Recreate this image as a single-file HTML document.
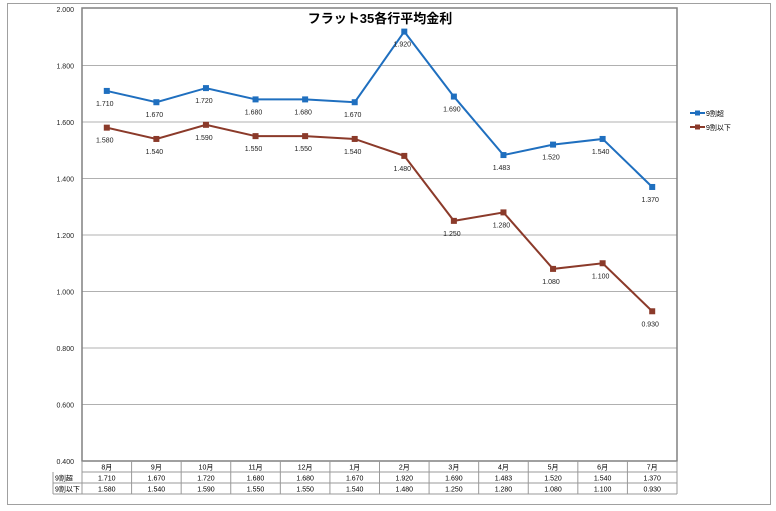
<!DOCTYPE html>
<html><head><meta charset="utf-8"><style>
html,body{margin:0;padding:0;background:#fff;width:776px;height:511px;overflow:hidden}
svg{display:block}
text{font-family:"Liberation Sans","Noto Sans CJK JP",sans-serif}
</style></head><body>
<svg id="s" width="776" height="511" xmlns="http://www.w3.org/2000/svg"></svg>
<script>
const s=document.getElementById('s');
let h='';
h+='<rect x="7.5" y="3.5" width="763" height="501" fill="#fff" stroke="#a0a0a0"/>';
const L=82,R=677,T=9,B=461;
const yv=v=>T+(2-v)*282.5;
for(let i=0;i<=8;i++){const v=2-i*0.2,y=yv(v);
 if(i>0&&i<8)h+=`<line x1="${L}" x2="${R}" y1="${y}" y2="${y}" stroke="#b0b0b0" stroke-width="1"/>`;
 h+=`<text x="74" y="${y+3}" font-size="7" text-anchor="end" fill="#222">${v.toFixed(3)}</text>`;}
h+=`<rect x="${L}" y="${T-1}" width="${R-L}" height="${B-T+1}" fill="none" stroke="#808080" stroke-width="1.5"/>`;
h+='<text x="380" y="23" font-size="13" font-weight="bold" text-anchor="middle" fill="#000">フラット35各行平均金利</text>';
const m=['8月','9月','10月','11月','12月','1月','2月','3月','4月','5月','6月','7月'];
const a=[1.71,1.67,1.72,1.68,1.68,1.67,1.92,1.69,1.483,1.52,1.54,1.37];
const b=[1.58,1.54,1.59,1.55,1.55,1.54,1.48,1.25,1.28,1.08,1.1,0.93];
const w=(R-L)/12,xc=i=>L+w*(i+0.5);
function ser(d,c){let p=d.map((v,i)=>xc(i)+','+yv(v)).join(' ');
 h+=`<polyline points="${p}" fill="none" stroke="${c}" stroke-width="2"/>`;
 d.forEach((v,i)=>{h+=`<rect x="${xc(i)-3}" y="${yv(v)-3}" width="6" height="6" fill="${c}"/>`;
 h+=`<text x="${xc(i)-2}" y="${yv(v)+15}" font-size="7" text-anchor="middle" fill="#222">${v.toFixed(3)}</text>`;});}
ser(a,'#1f6fbf');ser(b,'#8b3a2a');
// legend
h+='<line x1="690" x2="705" y1="113" y2="113" stroke="#1f6fbf" stroke-width="2"/><rect x="695" y="110.5" width="5" height="5" fill="#1f6fbf"/><text x="706" y="116" font-size="7">9割超</text>';
h+='<line x1="690" x2="705" y1="127" y2="127" stroke="#8b3a2a" stroke-width="2"/><rect x="695" y="124.5" width="5" height="5" fill="#8b3a2a"/><text x="706" y="130" font-size="7">9割以下</text>';
// table
const r0=461,rh=11;
for(let r=1;r<=3;r++){const x0=r==1?L:53;h+=`<line x1="${x0}" x2="${R}" y1="${r0+rh*r}" y2="${r0+rh*r}" stroke="#999"/>`;}
h+=`<line x1="53" x2="53" y1="${r0+rh}" y2="${r0+rh*3}" stroke="#999"/>`;
for(let i=0;i<=12;i++){const x=L+w*i;h+=`<line x1="${x}" x2="${x}" y1="${r0}" y2="${r0+rh*3}" stroke="#999"/>`;}
m.forEach((t,i)=>{h+=`<text x="${xc(i)}" y="${r0+8.5}" font-size="7" text-anchor="middle">${t}</text>`;
 h+=`<text x="${xc(i)}" y="${r0+rh+8.5}" font-size="7" text-anchor="middle">${a[i].toFixed(3)}</text>`;
 h+=`<text x="${xc(i)}" y="${r0+rh*2+8.5}" font-size="7" text-anchor="middle">${b[i].toFixed(3)}</text>`;});
h+=`<text x="55" y="${r0+rh+8.5}" font-size="7">9割超</text><text x="55" y="${r0+rh*2+8.5}" font-size="7">9割以下</text>`;
s.innerHTML=h;
</script>
</body></html>
